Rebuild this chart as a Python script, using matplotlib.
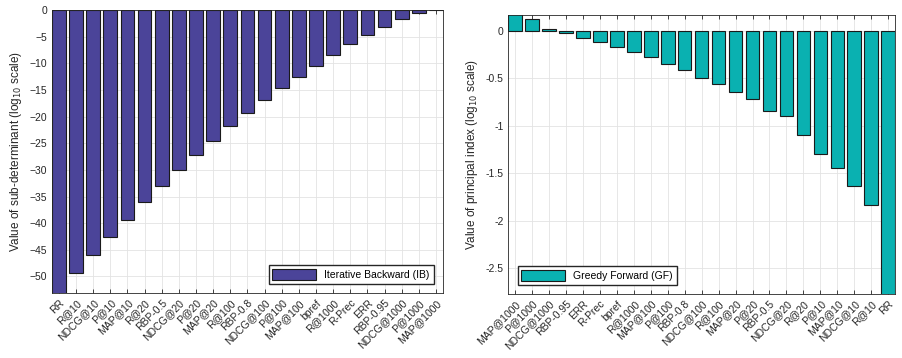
import matplotlib
matplotlib.use('Agg')
import matplotlib.pyplot as plt
import numpy as np

plt.rcParams['font.family'] = ['Liberation Sans', 'DejaVu Sans']

ib_labels = ['RR', 'R@10', 'NDCG@10', 'P@10', 'MAP@10', 'R@20', 'RBP-0.5', 'NDCG@20',
             'P@20', 'MAP@20', 'R@100', 'RBP-0.8', 'NDCG@100', 'P@100', 'MAP@100',
             'bpref', 'R@1000', 'R-Prec', 'ERR', 'RBP-0.95', 'NDCG@1000', 'P@1000', 'MAP@1000']
ib_values = [-56.0, -49.4, -46.0, -42.6, -39.4, -36.1, -33.0, -30.1, -27.2, -24.6, -21.8,
             -19.3, -16.9, -14.7, -12.5, -10.5, -8.4, -6.4, -4.7, -3.2, -1.7, -0.6, 0.0]

gf_labels = ['MAP@1000', 'P@1000', 'NDCG@1000', 'RBP-0.95', 'ERR', 'R-Prec', 'bpref',
             'R@1000', 'MAP@100', 'P@100', 'RBP-0.8', 'NDCG@100', 'R@100', 'MAP@20',
             'P@20', 'RBP-0.5', 'NDCG@20', 'R@20', 'P@10', 'MAP@10', 'NDCG@10', 'R@10', 'RR']
gf_values = [0.19, 0.124, 0.02, -0.025, -0.08, -0.12, -0.17, -0.226, -0.28, -0.346, -0.41,
             -0.50, -0.565, -0.64, -0.714, -0.84, -0.90, -1.10, -1.30, -1.445, -1.63, -1.83, -2.9]

fig = plt.figure(figsize=(9.02, 3.58), dpi=100)
ax1 = fig.add_axes([0.0576, 0.1816, 0.4334, 0.7904])
ax2 = fig.add_axes([0.5636, 0.179, 0.4286, 0.780])

fs = 7.5


def style(ax, labels):
    x = np.arange(1, len(labels) + 1)
    ax.set_xlim(0.6, len(labels) + 0.4)
    ax.set_xticks(x)
    ax.set_xticklabels(labels, rotation=45, ha='right', rotation_mode='anchor', fontsize=fs)
    ax.tick_params(axis='both', direction='in', length=3, top=True, right=True,
                   labelsize=fs, colors='#262626', width=0.6)
    ax.tick_params(axis='y', length=0)
    ax.grid(True, color='#e3e3e3', linewidth=0.6)
    ax.set_axisbelow(True)
    for s in ax.spines.values():
        s.set_color('#262626')
        s.set_linewidth(0.6)


x1 = np.arange(1, len(ib_labels) + 1)
ax1.bar(x1, ib_values, width=0.8, color='#4b4499', edgecolor='#1a1a1a', linewidth=0.8,
        label='Iterative Backward (IB)')
ax1.set_ylim(-53.1, 0)
ax1.set_yticks(np.arange(-50, 1, 5))
style(ax1, ib_labels)
ax1.set_ylabel('Value of sub-determinant (log$_{10}$ scale)', fontsize=8.5, color='#262626')
ax1.legend(loc='lower right', fontsize=fs, frameon=True, fancybox=False, edgecolor='#262626',
           framealpha=1, handlelength=4.2, handleheight=1.2, borderaxespad=0.9,
           borderpad=0.35)

x2 = np.arange(1, len(gf_labels) + 1)
ax2.bar(x2, gf_values, width=0.8, color='#0ab1b1', edgecolor='#1a1a1a', linewidth=0.8,
        label='Greedy Forward (GF)')
ax2.set_ylim(-2.77, 0.17)
ax2.set_yticks([-2.5, -2, -1.5, -1, -0.5, 0])
ax2.set_yticklabels(['-2.5', '-2', '-1.5', '-1', '-0.5', '0'])
style(ax2, gf_labels)
ax2.set_ylabel('Value of principal index (log$_{10}$ scale)', fontsize=8.5, color='#262626')
ax2.legend(loc='lower left', fontsize=fs, frameon=True, fancybox=False, edgecolor='#262626',
           framealpha=1, handlelength=4.2, handleheight=1.2, borderaxespad=0.9,
           borderpad=0.35)

fig.savefig('out.png', dpi=100)
